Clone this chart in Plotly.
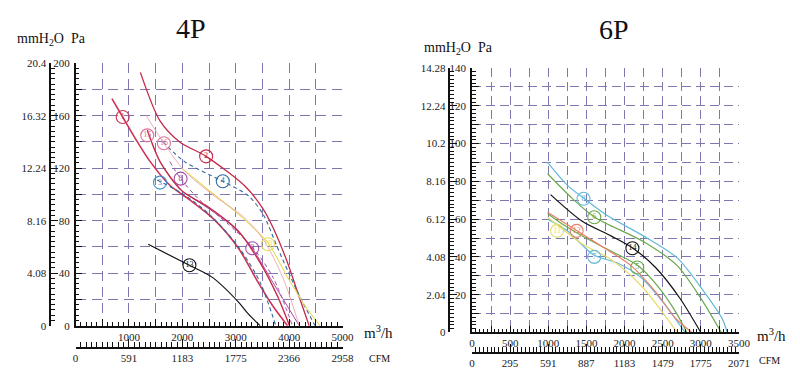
import plotly.graph_objects as go

# ---------------- 4P (left) data: Q in m3/h, P in Pa ----------------
P4_C1_Q = [680, 882, 1158, 1397, 1765, 2132, 2592, 3051, 3419, 3695, 3970]
P4_C1_P = [173, 159, 140, 125, 107, 96, 81, 59, 33, 15, 0]
P4_C2_Q = [1213, 1581, 1949, 2445, 3180, 3511, 3695, 3970, 4154, 4375]
P4_C2_P = [193, 156, 140, 129, 106, 89, 75, 48, 26, 0]
P4_C3_Q = [1526, 1985, 2500, 3051, 3456, 3750]
P4_C3_P = [111, 101, 85, 60, 33, 0]
P4_C4_Q = [1636, 2040, 2757, 3235, 3511, 3787, 4154, 4485]
P4_C4_P = [140, 125, 110, 99, 85, 59, 26, 0]
P4_C8_Q = [1765, 1967, 2316, 2868, 3309, 3695, 4062]
P4_C8_P = [125, 112, 96, 77, 60, 37, 0]
P4_C9_Q = [2040, 2500, 2960, 3309, 3695, 4190]
P4_C9_P = [101, 89, 75, 59, 33, 0]
P4_C10_Q = [1985, 2500, 3051, 3603, 3970, 4301, 4577]
P4_C10_P = [120, 103, 85, 63, 37, 15, 0]
P4_C13_Q = [1360, 2132, 2555, 3051, 3235, 3456]
P4_C13_P = [62, 46, 37, 18, 9, 0]
P4_C15_Q = [1342, 1581, 1985, 2500, 3051, 3456, 3787, 4007]
P4_C15_P = [149, 125, 103, 90, 72, 48, 22, 0]
P4_C16_Q = [1323, 1654, 2040, 2592, 3143, 3511, 3879, 4190]
P4_C16_P = [160, 139, 118, 99, 83, 66, 37, 0]

P4_LABELS = ["1", "2", "3", "4", "8", "15", "16", "9", "10", "13"]
P4_LABEL_Q = [882, 2445, 1581, 2757, 1967, 1342, 1654, 3309, 3603, 2132]
P4_LABEL_P = [159, 129, 109, 110, 112, 145, 139, 59, 62, 46]

# ---------------- 6P (right) data ----------------
P6_C8_Q = [991, 1248, 1467, 1789, 2252, 2690, 3024, 3282, 3346]
P6_C8_P = [90, 78, 71, 61.5, 51, 39.5, 22.6, 7.2, 0]
P6_C6_Q = [991, 1313, 1609, 2252, 2690, 2986, 3269]
P6_C6_P = [84, 71, 61, 48, 35.4, 19, 0]
P6_C14_Q = [1030, 1441, 1827, 2110, 2407, 2728, 3000]
P6_C14_P = [73, 59, 51, 44.6, 34.4, 18, 0]
P6_C5_Q = [991, 1184, 1506, 1827, 2175, 2445, 2664, 2818]
P6_C5_P = [63, 57.4, 49.7, 43, 35.4, 24, 11.3, 0]
P6_C7_Q = [991, 1248, 1596, 1892, 2213, 2497, 2793]
P6_C7_P = [60, 53.8, 41, 37, 29.2, 16.4, 0]
P6_C12_Q = [991, 1377, 1699, 2085, 2407, 2664, 2883]
P6_C12_P = [63.6, 53.8, 45.6, 35.4, 21.5, 7.7, 0]
P6_C11_Q = [991, 1441, 1827, 2213, 2535, 2690]
P6_C11_P = [61, 47, 38.5, 25, 8.7, 0]

P6_LABELS = ["8", "6", "12", "11", "14", "7", "5"]
P6_LABEL_Q = [1462, 1603, 1372, 1115, 2103, 1603, 2167]
P6_LABEL_P = [70.8, 61, 53.8, 53.8, 44.6, 40, 34.4]

# axis tick labels
P4_X_TICKS = [0, 500, 1000, 1500, 2000, 2500, 3000, 3500, 4000, 4500, 5000]
P4_X_TEXT = ["", "", "1000", "", "2000", "", "3000", "", "4000", "", "5000"]
P4_Y_TICKS = list(range(0, 201, 20))
P4_Y_TEXT = ["0", "", "40", "", "80", "", "120", "", "160", "", "200"]
P4_MM_TICKS = [0, 4.08, 8.16, 12.24, 16.32, 20.4]
P4_MM_TEXT = ["0", "4.08", "8.16", "12.24", "16.32", "20.4"]
P4_CFM_TICKS = [0, 591, 1183, 1775, 2366, 2958]

P6_X_TICKS = list(range(0, 3501, 250))
P6_X_TEXT = [str(v) if v % 500 == 0 else "" for v in P6_X_TICKS]
P6_Y_TICKS = list(range(0, 141, 10))
P6_Y_TEXT = [str(v) if v % 20 == 0 and v > 0 else "" for v in P6_Y_TICKS]
P6_MM_TICKS = [0, 2.04, 4.08, 6.12, 8.16, 10.2, 12.24, 14.28]
P6_MM_TEXT = ["0", "2.04", "4.08", "6.12", "8.16", "10.2", "12.24", "14.28"]
P6_CFM_TICKS = [0, 295, 591, 887, 1183, 1479, 1775, 2071]

W, H = 800, 384
GRID = "#7f78b0"
FONT = "Liberation Serif"

def fx(px):
    return px / W

def fy(py):
    return 1 - py / H

fig = go.Figure()

def curve(q, p, color, xa, ya, dash="solid", width=1.2):
    fig.add_trace(go.Scatter(x=q, y=p, mode="lines", xaxis=xa, yaxis=ya,
                             line=dict(color=color, width=width, dash=dash, shape="spline", smoothing=0.8),
                             showlegend=False, hoverinfo="skip"))

def anchor_trace(xa, ya):
    # invisible trace so that the secondary axes get drawn
    fig.add_trace(go.Scatter(x=[None], y=[None], mode="markers", xaxis=xa, yaxis=ya,
                             showlegend=False, hoverinfo="skip"))

RED = "#cc3355"
RED2 = "#c42a48"
BLUE = "#2f6a9c"
PURP = "#a64aa8"
YEL = "#e6dc5a"
PINK = "#e0709a"
LPINK = "#eda6b0"

curve(P4_C1_Q, P4_C1_P, RED, "x", "y", width=1.6)
curve(P4_C2_Q, P4_C2_P, RED2, "x", "y", width=1.3)
curve(P4_C3_Q, P4_C3_P, BLUE, "x", "y", dash="4px,3px", width=1.1)
curve(P4_C4_Q, P4_C4_P, BLUE, "x", "y", dash="4px,3px", width=1.1)
curve(P4_C8_Q, P4_C8_P, PURP, "x", "y", dash="4px,3px", width=1.0)
curve(P4_C9_Q, P4_C9_P, PURP, "x", "y", width=1.0)
curve(P4_C10_Q, P4_C10_P, YEL, "x", "y", width=1.1)
curve(P4_C13_Q, P4_C13_P, "#111111", "x", "y", width=1.2)
curve(P4_C15_Q, P4_C15_P, RED2, "x", "y", width=1.4)
curve(P4_C16_Q, P4_C16_P, LPINK, "x", "y", width=0.9)

P4_LABEL_COL = [RED, RED2, "#3d8fc8", BLUE, PURP, PINK, PINK, PURP, YEL, "#111111"]
fig.add_trace(go.Scatter(x=P4_LABEL_Q, y=P4_LABEL_P, mode="markers+text", xaxis="x", yaxis="y",
                         text=P4_LABELS, textposition="middle center",
                         textfont=dict(family=FONT, size=8, color=P4_LABEL_COL),
                         marker=dict(symbol="circle-open", size=13, color=P4_LABEL_COL, line=dict(width=1.1)),
                         showlegend=False, hoverinfo="skip"))

CYAN = "#62b9d8"
GREEN = "#6aa84a"
ORANGE = "#e8806a"
YEL6 = "#e8dc6a"
curve(P6_C8_Q, P6_C8_P, CYAN, "x4", "y4")
curve(P6_C6_Q, P6_C6_P, GREEN, "x4", "y4")
curve(P6_C14_Q, P6_C14_P, "#111111", "x4", "y4")
curve(P6_C5_Q, P6_C5_P, GREEN, "x4", "y4")
curve(P6_C7_Q, P6_C7_P, CYAN, "x4", "y4")
curve(P6_C12_Q, P6_C12_P, ORANGE, "x4", "y4")
curve(P6_C11_Q, P6_C11_P, YEL6, "x4", "y4")

P6_LABEL_COL = [CYAN, GREEN, ORANGE, YEL6, "#111111", CYAN, GREEN]
fig.add_trace(go.Scatter(x=P6_LABEL_Q, y=P6_LABEL_P, mode="markers+text", xaxis="x4", yaxis="y4",
                         text=P6_LABELS, textposition="middle center",
                         textfont=dict(family=FONT, size=8, color=P6_LABEL_COL),
                         marker=dict(symbol="circle-open", size=13, color=P6_LABEL_COL, line=dict(width=1.1)),
                         showlegend=False, hoverinfo="skip"))

anchor_trace("x", "y2")
anchor_trace("x3", "y3")
anchor_trace("x4", "y5")
anchor_trace("x6", "y6")

tickfont = dict(family=FONT, size=11, color="#222")

def main_x(dom, rng, tv, tt, minor_dt, anchor, gdash):
    return dict(domain=dom, range=rng, anchor=anchor, tickmode="array", tickvals=tv, ticktext=tt,
                showgrid=True, gridcolor=GRID, griddash=gdash, gridwidth=1.2,
                showline=True, linecolor="#111", linewidth=1.5, ticks="inside", ticklen=7,
                tickcolor="#111", tickfont=tickfont, zeroline=False, fixedrange=True,
                minor=dict(tickmode="linear", tick0=0, dtick=minor_dt, ticks="inside", ticklen=4,
                           tickcolor="#111", showgrid=False))

def main_y(dom, rng, tv, tt, minor_dt, anchor, gdash):
    return dict(domain=dom, range=rng, tickmode="array", tickvals=tv, ticktext=tt, anchor=anchor,
                showgrid=True, gridcolor=GRID, griddash=gdash, gridwidth=1.2,
                showline=True, linecolor="#111", linewidth=1.5, ticks="inside", ticklen=7,
                tickcolor="#111", tickfont=tickfont, zeroline=False, fixedrange=True,
                ticklabelstandoff=2,
                minor=dict(tickmode="linear", tick0=0, dtick=minor_dt, ticks="inside", ticklen=4,
                           tickcolor="#111", showgrid=False))

def mm_y(over, pos, rng, tv, tt, minor_dt):
    return dict(overlaying=over, anchor="free", position=pos, side="left", range=rng, tickmode="array",
                tickvals=tv, ticktext=tt, showgrid=False, showline=True, linecolor="#111",
                linewidth=1.5, ticks="inside", ticklen=7, tickcolor="#111", tickfont=tickfont,
                zeroline=False, fixedrange=True, ticklabelstandoff=1,
                minor=dict(tickmode="linear", tick0=0, dtick=minor_dt, ticks="inside", ticklen=4,
                           tickcolor="#111", showgrid=False))

def cfm_x(dom, rng, tv, anchor, minor_dt):
    return dict(domain=dom, range=rng, anchor=anchor, side="bottom", tickmode="array", tickvals=tv,
                ticktext=[str(v) for v in tv], showgrid=False, showline=True, linecolor="#111",
                linewidth=1.5, ticks="inside", ticklen=8, tickcolor="#111", tickfont=tickfont,
                zeroline=False, fixedrange=True,
                minor=dict(tickmode="linear", tick0=0, dtick=minor_dt, ticks="inside", ticklen=5,
                           tickcolor="#111", showgrid=False))

def dummy_y(dom):
    return dict(domain=dom, range=[0, 1], showticklabels=False, showgrid=False, showline=False,
                zeroline=False, ticks="", fixedrange=True)

L_X = [fx(74), fx(346)]
L_Y = [fy(330), fy(59)]
R_X = [fx(478), fx(750)]
R_Y = [fy(337), fy(64)]

fig.update_layout(
    width=W, height=H, margin=dict(l=0, r=0, t=0, b=0),
    paper_bgcolor="white", plot_bgcolor="white", showlegend=False,
    xaxis=main_x(L_X, [0, 5000], P4_X_TICKS, P4_X_TEXT, 100, "y", "10px,6px"),
    yaxis=main_y(L_Y, [0, 200], P4_Y_TICKS, P4_Y_TEXT, 4, "x", "10px,6px"),
    yaxis2=mm_y("y", fx(48), [0, 20.4], P4_MM_TICKS, P4_MM_TEXT, 0.408),
    xaxis3=cfm_x(L_X, [0, 2958], P4_CFM_TICKS, "y3", 2958 / 50),
    yaxis3=dummy_y([fy(352), fy(351)]),
    xaxis4=main_x(R_X, [0, 3500], P6_X_TICKS, P6_X_TEXT, 50, "y4", "9px,5px"),
    yaxis4=main_y(R_Y, [0, 140], P6_Y_TICKS, P6_Y_TEXT, 2, "x4", "9px,5px"),
    yaxis5=mm_y("y4", fx(455), [0, 14.28], P6_MM_TICKS, P6_MM_TEXT, 0.204),
    xaxis6=cfm_x(R_X, [0, 2071], P6_CFM_TICKS, "y6", 2071 / 70),
    yaxis6=dummy_y([fy(357), fy(356)]),
)

def ann(text, px, py, size, xanchor="center"):
    fig.add_annotation(text=text, x=fx(px), y=fy(py), xref="paper", yref="paper",
                       showarrow=False, xanchor=xanchor, yanchor="middle",
                       font=dict(family=FONT, size=size, color="#111"))

ann("4P", 192, 23, 28)
ann("6P", 623, 24, 28)
ann("mmH<sub>2</sub>O&nbsp;&nbsp;Pa", 12, 35, 14, "left")
ann("mmH<sub>2</sub>O&nbsp;&nbsp;Pa", 427, 44, 14, "left")
ann("m<sup>3</sup>/h", 366, 337, 15, "left")
ann("m<sup>3</sup>/h", 766, 340, 15, "left")
ann("CFM", 371, 364, 10, "left")
ann("CFM", 768, 366, 10, "left")

fig.write_html("out.html")
